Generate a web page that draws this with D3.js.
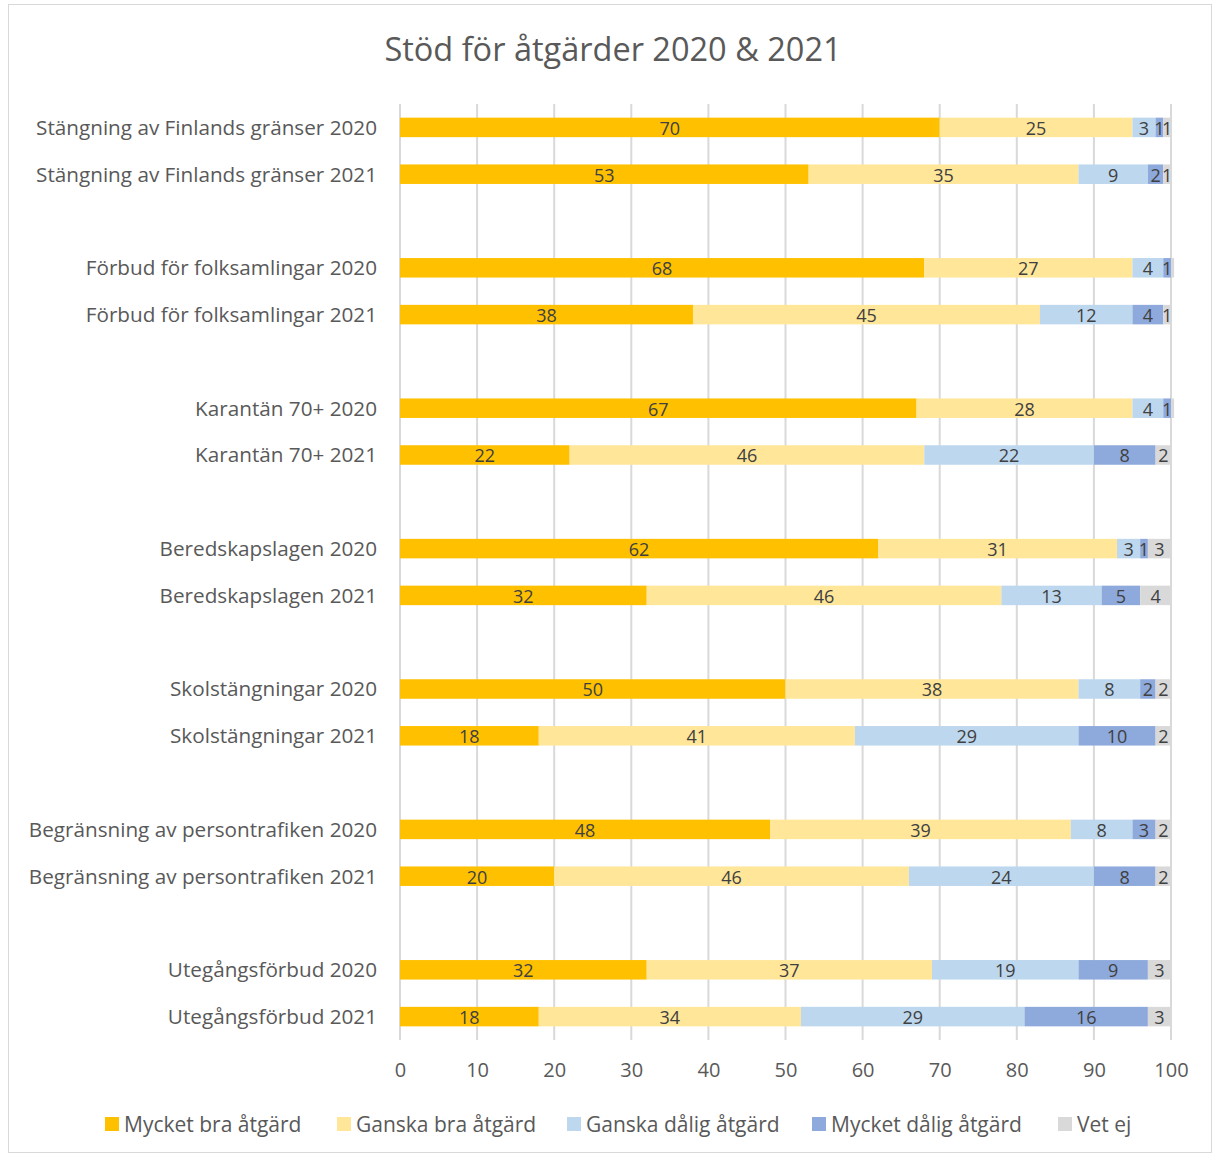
<!DOCTYPE html>
<html lang="sv">
<head>
<meta charset="UTF-8">
<title>Stöd för åtgärder</title>
<style>
    body { margin: 0; background: #fff; }
    text { font-family: "Open Sans", "Noto Sans", sans-serif; }
</style>
</head>
<body>
<script src="https://d3js.org/d3.v7.min.js"></script>
<script>
    // kategorier (uppifrån och ned)
    const categories = [
        "Stängning av Finlands gränser 2020", "Stängning av Finlands gränser 2021",
        "Förbud för folksamlingar 2020", "Förbud för folksamlingar 2021",
        "Karantän 70+ 2020", "Karantän 70+ 2021",
        "Beredskapslagen 2020", "Beredskapslagen 2021",
        "Skolstängningar 2020", "Skolstängningar 2021",
        "Begränsning av persontrafiken 2020", "Begränsning av persontrafiken 2021",
        "Utegångsförbud 2020", "Utegångsförbud 2021"
    ];
    const seriesNames = ["Mycket bra åtgärd", "Ganska bra åtgärd", "Ganska dålig åtgärd", "Mycket dålig åtgärd", "Vet ej"];
    const mycketBra  = [70, 53, 68, 38, 67, 22, 62, 32, 50, 18, 48, 20, 32, 18];
    const ganskaBra  = [25, 35, 27, 45, 28, 46, 31, 46, 38, 41, 39, 46, 37, 34];
    const ganskaDal  = [3, 9, 4, 12, 4, 22, 3, 13, 8, 29, 8, 24, 19, 29];
    const mycketDal  = [1, 2, 1, 4, 1, 8, 1, 5, 2, 10, 3, 8, 9, 16];
    const vetEj      = [1, 1, 0.4, 1, 0.4, 2, 3, 4, 2, 2, 2, 2, 3, 3];
    const xTicks = [0, 10, 20, 30, 40, 50, 60, 70, 80, 90, 100];
    const colors = ["#FFC000", "#FFE699", "#BDD7EE", "#8EA9DB", "#D9D9D9"];

    let w = 1214, h = 1155;
    let svg = d3.select("body").append("svg")
        .attr("width", w)
        .attr("height", h);

    // ram
    svg.append("rect")
        .attr("x", 8.5).attr("y", 4.5)
        .attr("width", w - 11).attr("height", h - 7)
        .attr("fill", "#fff")
        .attr("stroke", "#d9d9d9")
        .attr("stroke-width", 1);

    svg.append("text")
        .attr("x", 613).attr("y", 61)
        .attr("text-anchor", "middle")
        .style("font-size", "32.5px")
        .style("fill", "#595959")
        .text("Stöd för åtgärder 2020 & 2021");

    // rader med tomma platser mellan paren
    let rows = [];
    categories.forEach(function (c, i) {
        rows.push(i);
        if (i % 2 === 1 && i < categories.length - 1) rows.push("gap" + i);
    });

    let x = d3.scaleLinear().domain([0, 100]).range([400, 1171]);
    let y = d3.scaleBand().domain(rows).range([104, 1040]).paddingInner(140 / 240).paddingOuter(70 / 240);

    // rutnät
    svg.append("g").selectAll("line")
        .data(xTicks)
        .enter()
        .append("line")
        .attr("x1", d => x(d)).attr("x2", d => x(d))
        .attr("y1", 104).attr("y2", 1040)
        .attr("stroke", "#d9d9d9")
        .attr("stroke-width", 2);

    let xAxis = svg.append("g")
        .attr("transform", "translate(0,1040)")
        .call(d3.axisBottom(x).tickValues(xTicks).tickSize(0).tickPadding(23));
    xAxis.select(".domain").remove();
    xAxis.selectAll("text")
        .style("font-size", "20px")
        .style("fill", "#595959")
        .style("font-family", "'Open Sans', sans-serif");

    let data = categories.map(function (c, i) {
        return {idx: i, vals: [mycketBra[i], ganskaBra[i], ganskaDal[i], mycketDal[i], vetEj[i]]};
    });

    let stack = d3.stack().keys([0, 1, 2, 3, 4]).value((d, k) => d.vals[k]);
    let series = stack(data);

    let groups = svg.append("g").selectAll("g")
        .data(series)
        .enter()
        .append("g")
        .attr("fill", (d, i) => colors[i]);

    groups.selectAll("rect")
        .data(d => d)
        .enter()
        .append("rect")
        .attr("x", d => x(d[0]))
        .attr("y", d => y(d.data.idx))
        .attr("width", d => x(d[1]) - x(d[0]))
        .attr("height", y.bandwidth());

    groups.selectAll("text")
        .data(d => d.filter(p => p[1] - p[0] >= 0.5))
        .enter()
        .append("text")
        .attr("x", d => (x(d[0]) + x(d[1])) / 2)
        .attr("y", d => y(d.data.idx) + y.bandwidth() / 2 + 1)
        .attr("dy", "0.36em")
        .attr("text-anchor", "middle")
        .style("font-size", "18px")
        .style("fill", "#404040")
        .text(d => Math.round(d[1] - d[0]));

    // kategorietiketter
    svg.append("g").selectAll("text")
        .data(data)
        .enter()
        .append("text")
        .attr("x", 377)
        .attr("y", d => y(d.idx) + y.bandwidth() / 2)
        .attr("dy", "0.36em")
        .attr("text-anchor", "end")
        .style("font-size", "20.7px")
        .style("fill", "#595959")
        .text(d => categories[d.idx]);

    // förklaring
    const legendX = [105, 337, 567, 812, 1058];
    let legend = svg.append("g").selectAll("g")
        .data(seriesNames)
        .enter()
        .append("g")
        .attr("transform", (d, i) => "translate(" + legendX[i] + ",1124)");
    legend.append("rect")
        .attr("x", 0).attr("y", -7)
        .attr("width", 14).attr("height", 14)
        .attr("fill", (d, i) => colors[i]);
    legend.append("text")
        .attr("x", 19).attr("y", 0)
        .attr("dy", "0.36em")
        .style("font-size", "21px")
        .style("fill", "#595959")
        .text(d => d);
</script>
</body>
</html>
